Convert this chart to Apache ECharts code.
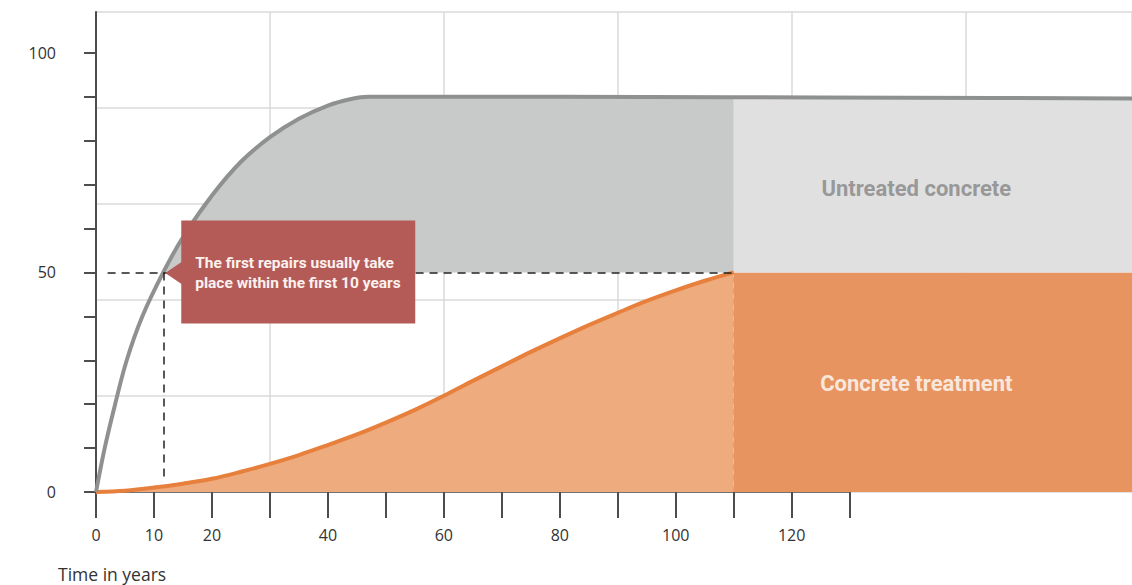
<!DOCTYPE html>
<html><head><meta charset="utf-8">
<script src="https://cdn.jsdelivr.net/npm/echarts@6/dist/echarts.min.js"></script>
<style>html,body{margin:0;padding:0;background:#fff}#c{width:1132px;height:585px}</style>
</head><body><div id="c"></div>
<script>
// ---- data ----
const grayYears   = [0, 1.5, 3.3, 5.3, 8, 11.6, 15, 20, 25, 30, 35, 40, 44, 47, 60, 80, 110, 140, 178.7];
const grayValues  = [0, 10, 20, 30, 40, 50, 58, 67.5, 75.2, 80.8, 85.0, 88.0, 89.5, 90, 90, 90, 89.9, 89.8, 89.6];
const orangeYears  = [0, 5, 10, 15, 20, 25, 30, 35, 40, 45, 50, 55, 60, 65, 70, 75, 80, 85, 90, 95, 100, 105, 110];
const orangeValues = [0, 0.3, 1.0, 1.9, 3.0, 4.6, 6.4, 8.4, 10.7, 13.1, 15.8, 18.7, 21.9, 25.3, 28.6, 31.9, 35.0, 38.0, 40.8, 43.5, 45.9, 48.1, 50];
const xTickValues  = [0,10,20,30,40,50,60,70,80,90,100,110,120,130];
const xTickLabels  = [0,10,20,40,60,80,100,120];
const yTickValues  = [0,10,20,30,40,50,60,70,80,90,100];
const yTickLabels  = [0,50,100];
const repairYear = 11.6;
const repairLevel = 50;
const treatmentStart = 110;
const xMax = 178.7;
const yMax = 109.3;
const xAxisEnd = 130;
const textUntreated = 'Untreated concrete';
const textTreated = 'Concrete treatment';
const textCallout = ['The first repairs usually take', 'place within the first 10 years'];
const textXName = 'Time in years';

// ---- build ----
const grayData = grayYears.map((x, i) => [x, grayValues[i]]);
const orangeData = orangeYears.map((x, i) => [x, orangeValues[i]]);
const grayFill = grayData.filter(p => p[0] >= repairYear && p[0] <= treatmentStart);
const grayRight = grayData.filter(p => p[0] >= treatmentStart);
const orangeRect = [[treatmentStart, repairLevel], [xMax, repairLevel]];

const chart = echarts.init(document.getElementById('c'), null, {renderer: 'svg'});
const AX = '#4d4d4d';
const tickFont = {color: '#333', fontFamily: 'Open Sans', fontSize: 16};
const SM = 0.35;

chart.setOption({
  animation: false,
  backgroundColor: '#fff',
  grid: [
    {left: 96, top: 12, width: 1036, height: 480},
    {left: 96, top: 12, width: 1036 * xAxisEnd / xMax, height: 480}
  ],
  xAxis: [
    {type: 'value', gridIndex: 0, min: 0, max: xMax, interval: 30,
     axisLine: {show: false}, axisTick: {show: false}, axisLabel: {show: false},
     splitLine: {show: true, lineStyle: {color: '#dadada', width: 1.5}}},
    {type: 'value', gridIndex: 1, min: 0, max: xAxisEnd, interval: 10,
     axisLine: {show: true, lineStyle: {color: AX, width: 1.5}},
     axisTick: {show: true, length: 26, lineStyle: {color: AX, width: 2}, customValues: xTickValues},
     axisLabel: Object.assign({show: true, margin: 35, customValues: xTickLabels}, tickFont),
     splitLine: {show: false}}
  ],
  yAxis: [
    {type: 'value', gridIndex: 0, min: 0, max: yMax,
     axisLine: {show: true, lineStyle: {color: AX, width: 2}},
     axisTick: {show: true, length: 12, lineStyle: {color: AX, width: 2}, customValues: yTickValues},
     axisLabel: Object.assign({show: true, margin: 40, customValues: yTickLabels}, tickFont),
     splitLine: {show: false}},
    {type: 'value', gridIndex: 0, min: 0, max: yMax, interval: yMax / 5,
     axisLine: {show: false}, axisTick: {show: false}, axisLabel: {show: false},
     splitLine: {show: true, lineStyle: {color: '#dadada', width: 1.5}}},
    {type: 'value', gridIndex: 1, min: 0, max: 1, show: false}
  ],
  series: [
    {type: 'line', name: 'treatedRect', data: orangeRect, symbol: 'none', z: 1,
     lineStyle: {width: 0}, areaStyle: {color: '#e89460', opacity: 1}},
    {type: 'line', name: 'untreatedRect', data: grayRight, symbol: 'none', smooth: SM, z: 1,
     lineStyle: {width: 0}, areaStyle: {color: '#e0e0e0', opacity: 1, origin: repairLevel}},
    {type: 'line', name: 'untreatedFill', data: grayFill, symbol: 'none', smooth: SM, z: 2,
     lineStyle: {width: 0}, areaStyle: {color: '#c8cac9', opacity: 1, origin: repairLevel}},
    {type: 'line', name: 'treated', data: orangeData, symbol: 'none', smooth: SM, z: 3,
     lineStyle: {color: '#e7803d', width: 4}, areaStyle: {color: '#eeab7d', opacity: 1},
     markLine: {silent: true, symbol: 'none', label: {show: false},
       lineStyle: {color: '#e3a27a', width: 1.2, type: [6, 5]},
       data: [[{coord: [treatmentStart, 0]}, {coord: [treatmentStart, repairLevel]}]]}},
    {type: 'line', name: 'untreated', data: grayData, symbol: 'none', smooth: SM, z: 4,
     lineStyle: {color: '#8f9090', width: 4},
     markLine: {silent: true, symbol: 'none', label: {show: false},
       lineStyle: {color: '#222', width: 1.5, type: [8, 6]},
       data: [
         [{coord: [2, repairLevel]}, {coord: [treatmentStart, repairLevel]}],
         [{coord: [repairYear, repairLevel]}, {coord: [repairYear, 3]}]
       ]}},
    {type: 'scatter', name: 'labels', symbolSize: 0, z: 6, silent: true,
     data: [
       {value: [141.5, 69], label: {show: true, position: 'inside', formatter: textUntreated, color: '#858585',
         fontFamily: 'Roboto', fontWeight: 'bold', fontSize: 22}},
       {value: [141.5, 24.8], label: {show: true, position: 'inside', formatter: textTreated, color: '#ffffff',
         fontFamily: 'Roboto', fontWeight: 'bold', fontSize: 22}}
     ]}
  ]
});

const tip = chart.convertToPixel({xAxisIndex: 0, yAxisIndex: 0}, [repairYear, repairLevel]);
const bx = tip[0] + 18, by = tip[1] - 52, bw = 234, bh = 103;
chart.setOption({
  graphic: [
    {type: 'polygon', z: 100, shape: {points: [[tip[0] + 2, tip[1] + 0.5], [bx + 1, tip[1] - 11], [bx + 1, tip[1] + 12]]},
     style: {fill: '#b55b57'}},
    {type: 'rect', z: 100, shape: {x: bx, y: by, width: bw, height: bh}, style: {fill: '#b55b57'}},
    {type: 'text', z: 101, style: {text: textCallout.join('\n'), x: bx + 14, y: tip[1] + 1,
      verticalAlign: 'middle', align: 'left', lineHeight: 20, fill: '#fbf1ef',
      font: 'bold 15.5px Roboto'}},
    {type: 'text', z: 101, style: {text: textXName, x: 58, y: 574, verticalAlign: 'middle', align: 'left',
      fill: '#333', font: '17.5px "Open Sans"'}}
  ]
});
</script>
</body></html>
